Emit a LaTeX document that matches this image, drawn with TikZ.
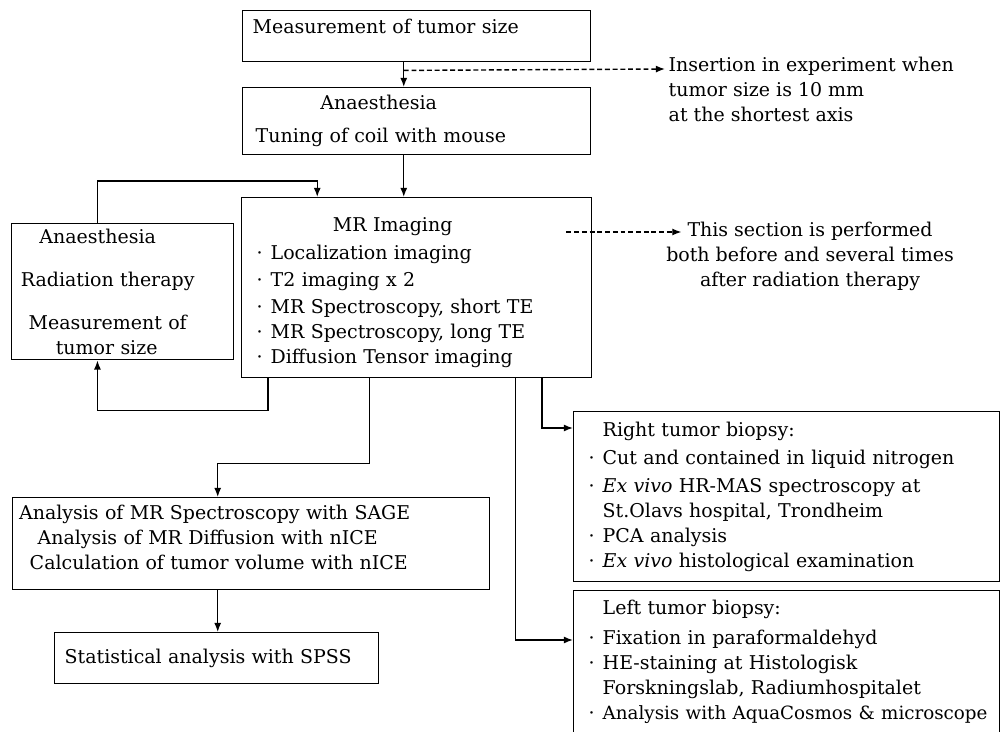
\documentclass[tikz,border=0pt]{standalone}
\usepackage{fontspec}
\setmainfont{DejaVu Serif}
\usetikzlibrary{arrows.meta, positioning, calc}

\newdimen\px \px=0.025cm
\newcommand{\itm}{\makebox[14\px][l]{\textperiodcentered}}
\newcommand{\ctr}[2]{\makebox[#1\px][c]{#2}}

\begin{document}
\begin{tikzpicture}[x=0.025cm, y=-0.025cm, >={Latex[length=6.5pt,width=5pt]}, line width=1pt, font=\fontsize{13.5}{17.8}\selectfont]
        % Styles
        \tikzstyle{block} = [draw, rectangle, anchor=north west, align=left, inner sep=0pt]
        \tikzstyle{note} = [align=left, inner sep=0pt]
        \tikzstyle{link} = [->]
        \tikzstyle{hint} = [->, dash pattern=on 3.5pt off 2pt]

        \useasboundingbox (0,0) rectangle (1000,731);
        \clip (0,0) rectangle (1000,731);

        % --- Main column ---
        \node [block, text width=328\px, inner xsep=10\px, text height=22.5\px, text depth=28.5\px] (tumor) at (242,10) {Measurement of tumor size};
        \node [block, inner xsep=13\px, text width=322\px, text height=21.5\px, text depth=45.5\px] (prep) at (242,87) {
            \ctr{246}{Anaesthesia}\\[8\px]
            Tuning of coil with mouse};
        \node [block, inner xsep=15\px, text width=320\px, text height=33.5\px, text depth=146.5\px] (mr) at (241,197) {
            \ctr{272}{MR Imaging}\\[3\px]
            \itm Localization imaging\\[2\px]
            \itm T2 imaging x 2\\[2\px]
            \itm MR Spectroscopy, short TE\\
            \itm MR Spectroscopy, long TE\\
            \itm Diffusion Tensor imaging};

        % --- Radiation loop (left) ---
        \node [block, text width=222\px, text height=19.5\px, text depth=116.5\px] (rt) at (11,223) {
            \ctr{172}{Anaesthesia}\\[18\px]
            \ctr{192}{Radiation therapy}\\[18\px]
            \ctr{192}{Measurement of}\\
            \ctr{190}{tumor size}};

        % --- Analysis (bottom left) ---
        \node [block, text width=477\px, text height=21.5\px, text depth=70.5\px] (an) at (12,497) {
            \ctr{404}{Analysis of MR Spectroscopy with SAGE}\\
            \ctr{390}{Analysis of MR Diffusion with nICE}\\
            \ctr{412}{Calculation of tumor volume with nICE}};
        \node [block, inner xsep=10\px, text width=304\px, text height=30.5\px, text depth=20.5\px] (st) at (54,632) {Statistical analysis with SPSS};

        % --- Biopsies (right) ---
        \node [block, inner xsep=15\px, text width=396\px, text height=24.5\px, text depth=145.5\px] (rb) at (573,411) {
            \hspace*{14\px}Right tumor biopsy:\\[3\px]
            \itm Cut and contained in liquid nitrogen\\[3\px]
            \itm \textit{Ex vivo} HR-MAS spectroscopy at\\
            \hspace*{14\px}St.Olavs hospital, Trondheim\\
            \itm PCA analysis\\
            \itm \textit{Ex vivo} histological examination};
        \node [block, inner xsep=15\px, text width=396\px, text height=23.5\px, text depth=160\px] (lb) at (573,590) {
            \hspace*{14\px}Left tumor biopsy:\\[5\px]
            \itm Fixation in paraformaldehyd\\
            \itm HE-staining at Histologisk\\
            \hspace*{14\px}Forskningslab, Radiumhospitalet\\
            \itm \mbox{\fontsize{13}{17.8}\selectfont Analysis with AquaCosmos \& microscope}};

        % --- Notes ---
        \node [note, anchor=west] (ins) at (668,89) {Insertion in experiment when\\ tumor size is 10 mm\\ at the shortest axis};
        \node [note, align=center] (sec) at (810,256) {This section is performed\\ both before and several times\\ after radiation therapy};

        % --- Connectors ---
        \coordinate (t_out) at ($(tumor.south west)!0.463!(tumor.south east)$);
        \coordinate (p_out) at ($(prep.south west)!0.463!(prep.south east)$);
        \draw [link] (t_out) -- (t_out |- prep.north);
        \draw [link] (p_out) -- (p_out |- mr.north);
        \draw [hint] ($(t_out)+(0,8)$) -- ($(ins.west)+(-3,-20)$);
        \draw [hint] ($(mr.north east)+(-26,35)$) -- ($(mr.north east)+(89,35)$);

        \coordinate (r_top) at ($(rt.north west)!0.387!(rt.north east)$);
        \coordinate (r_bot) at ($(rt.south west)!0.387!(rt.south east)$);
        \coordinate (m_in) at ($(mr.north west)!0.217!(mr.north east)$);
        \draw [link] (r_top) -- ++(0,-42) -| (m_in);

        \coordinate (m_o1) at ($(mr.south west)!0.077!(mr.south east)$);
        \coordinate (m_o2) at ($(mr.south west)!0.366!(mr.south east)$);
        \coordinate (m_o3) at ($(mr.south west)!0.781!(mr.south east)$);
        \coordinate (m_o4) at ($(mr.south west)!0.856!(mr.south east)$);
        \draw [link] (m_o1) -- ++(0,32) -| (r_bot);

        \coordinate (a_in) at ($(an.north west)!0.43!(an.north east)$);
        \coordinate (a_out) at ($(an.south west)!0.43!(an.south east)$);
        \draw [link] (m_o2) -- ++(0,85) -| (a_in);
        \draw [link] (a_out) -- (a_out |- st.north);

        \draw [link] (m_o4) |- ($(rb.north west)+(0,17)$);
        \draw [link] (m_o3) |- ($(lb.north west)+(0,50)$);

    \end{tikzpicture}
\end{document}
